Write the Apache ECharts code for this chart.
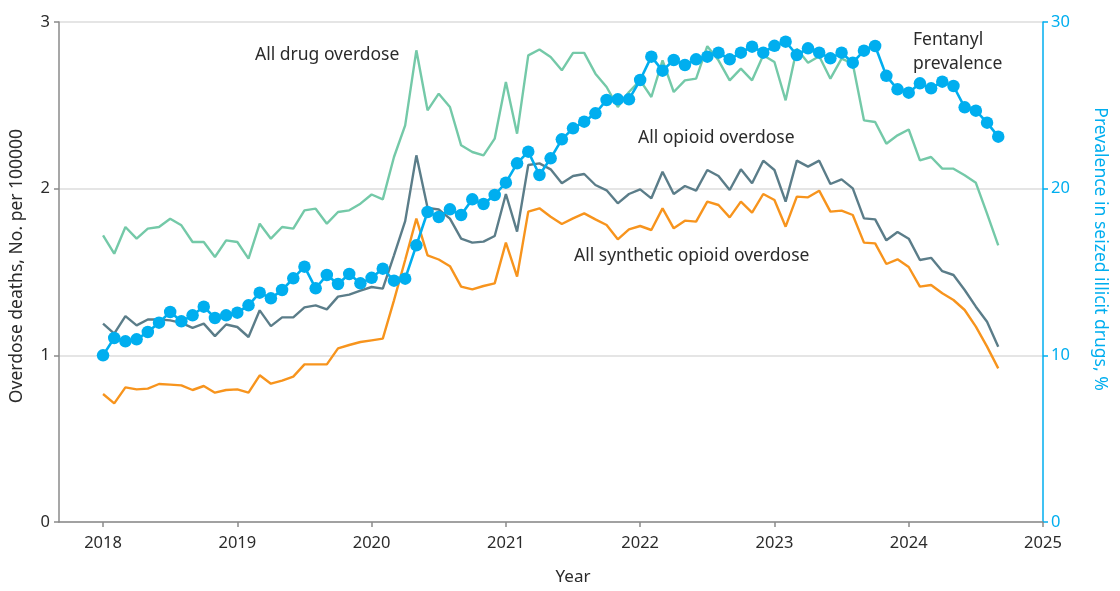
<!DOCTYPE html>
<html>
<head>
<meta charset="utf-8">
<script src="https://cdn.jsdelivr.net/npm/echarts@6/dist/echarts.min.js"></script>
<style>
html,body{margin:0;padding:0;background:#fff;}
#chart{width:1120px;height:591px;}
</style>
</head>
<body>
<div id="chart"></div>
<script>
// Monthly periods, Jan 2018 .. Sep 2024
const startYear = 2018;
const monthCount = 81;
const months = [];
for (let i = 0; i < monthCount; i++) months.push(startYear + i / 12);

const yearTicks = [2018, 2019, 2020, 2021, 2022, 2023, 2024, 2025];
const leftTicks = [0, 1, 2, 3];
const rightTicks = [0, 10, 20, 30];

// Overdose deaths per 100000
const allDrug = [
  1.72, 1.61, 1.77, 1.70, 1.76, 1.77, 1.82, 1.78, 1.68, 1.68, 1.59, 1.69,
  1.68, 1.58, 1.79, 1.70, 1.77, 1.76, 1.87, 1.88, 1.79, 1.86, 1.87, 1.91,
  1.965, 1.936, 2.19, 2.38, 2.83, 2.47, 2.57, 2.49, 2.26, 2.22, 2.20, 2.30,
  2.64, 2.33, 2.80, 2.835, 2.79, 2.71, 2.815, 2.815, 2.69, 2.61, 2.49, 2.58,
  2.65, 2.55, 2.77, 2.58, 2.65, 2.66, 2.855, 2.77, 2.65, 2.72, 2.65, 2.80,
  2.76, 2.53, 2.84, 2.755, 2.795, 2.66, 2.78, 2.75, 2.41, 2.40, 2.27, 2.32,
  2.355, 2.17, 2.19, 2.12, 2.12, 2.08, 2.035, 1.85, 1.66
];
const allOpioid = [
  1.19, 1.13, 1.235, 1.18, 1.215, 1.215, 1.21, 1.195, 1.165, 1.19, 1.115, 1.185,
  1.17, 1.11, 1.27, 1.175, 1.228, 1.228, 1.288, 1.30, 1.276, 1.352, 1.364, 1.388,
  1.41, 1.40, 1.60, 1.805, 2.20, 1.885, 1.875, 1.82, 1.70, 1.676, 1.682, 1.716,
  1.968, 1.742, 2.142, 2.152, 2.116, 2.032, 2.076, 2.088, 2.022, 1.99, 1.912, 1.968,
  1.996, 1.942, 2.102, 1.968, 2.016, 1.988, 2.112, 2.076, 1.992, 2.116, 2.032, 2.168,
  2.112, 1.922, 2.168, 2.132, 2.168, 2.028, 2.056, 2.002, 1.822, 1.816, 1.69, 1.74,
  1.70, 1.572, 1.585, 1.505, 1.482, 1.392, 1.292, 1.202, 1.052
];
const synthOpioid = [
  0.768, 0.712, 0.808, 0.796, 0.80, 0.828, 0.824, 0.82, 0.792, 0.816, 0.776, 0.792,
  0.796, 0.776, 0.88, 0.83, 0.848, 0.872, 0.946, 0.946, 0.946, 1.042, 1.062, 1.08,
  1.09, 1.10, 1.33, 1.572, 1.82, 1.60, 1.575, 1.535, 1.412, 1.396, 1.416, 1.432,
  1.676, 1.472, 1.862, 1.882, 1.832, 1.788, 1.822, 1.852, 1.816, 1.782, 1.696, 1.756,
  1.776, 1.752, 1.882, 1.762, 1.808, 1.802, 1.922, 1.902, 1.828, 1.922, 1.856, 1.968,
  1.932, 1.772, 1.952, 1.948, 1.988, 1.862, 1.868, 1.842, 1.676, 1.672, 1.548, 1.576,
  1.53, 1.412, 1.422, 1.372, 1.332, 1.272, 1.172, 1.052, 0.922
];
// Fentanyl prevalence in seized illicit drugs, %
const fentanyl = [
  10.0, 11.04, 10.84, 10.96, 11.4, 11.96, 12.6, 12.04, 12.4, 12.92, 12.24, 12.4,
  12.56, 13.0, 13.76, 13.42, 13.92, 14.62, 15.32, 14.02, 14.82, 14.28, 14.88, 14.32,
  14.65, 15.2, 14.48, 14.6, 16.6, 18.6, 18.3, 18.76, 18.42, 19.36, 19.08, 19.62,
  20.36, 21.52, 22.22, 20.82, 21.82, 22.96, 23.62, 24.02, 24.52, 25.32, 25.36, 25.36,
  26.52, 27.92, 27.08, 27.72, 27.42, 27.76, 27.92, 28.16, 27.76, 28.16, 28.52, 28.16,
  28.57, 28.82, 28.02, 28.42, 28.16, 27.82, 28.16, 27.56, 28.28, 28.56, 26.77, 25.96,
  25.76, 26.32, 26.02, 26.42, 26.16, 24.88, 24.68, 23.96, 23.12
];

const pair = arr => arr.map((v, i) => [months[i], v]);

const FONT = 'Noto Sans';
const TXT = '#2b2b2b';
const AXIS = '#8a8a8a';
const BLUE = '#00aeef';

const chart = echarts.init(document.getElementById('chart'), null, {renderer: 'canvas'});
chart.setOption({
  animation: false,
  backgroundColor: '#fff',
  textStyle: {fontFamily: FONT},
  grid: {left: 58, right: 77, top: 22, bottom: 69, containLabel: false},
  xAxis: {
    type: 'value',
    min: 2017.672,
    max: 2025,
    name: 'Year',
    nameLocation: 'middle',
    nameGap: 47,
    nameTextStyle: {fontFamily: FONT, fontSize: 17, color: TXT, padding: [0, 0, 0, 44]},
    axisLine: {show: true, lineStyle: {color: AXIS, width: 1.5}},
    axisTick: {show: true, customValues: yearTicks, length: 5, lineStyle: {color: AXIS, width: 1.5}},
    axisLabel: {customValues: yearTicks, formatter: v => String(v), fontFamily: FONT, fontSize: 16.5, color: TXT, margin: 13},
    splitLine: {show: false}
  },
  yAxis: [
    {
      type: 'value',
      min: 0, max: 3, interval: 1,
      position: 'left',
      name: 'Overdose deaths, No. per 100000',
      nameLocation: 'middle',
      nameGap: 33,
      nameTextStyle: {fontFamily: FONT, fontSize: 17.5, color: TXT, padding: [0, 0, 0, 12]},
      axisLine: {show: true, lineStyle: {color: AXIS, width: 1.5}},
      axisTick: {show: true, length: 5, lineStyle: {color: AXIS, width: 1.5}},
      axisLabel: {fontFamily: FONT, fontSize: 16.5, color: TXT, margin: 9,
        customValues: leftTicks, formatter: v => String(v)},
      splitLine: {show: true, lineStyle: {color: '#dcdcdc', width: 1.5}}
    },
    {
      type: 'value',
      min: 0, max: 30, interval: 10,
      position: 'right',
      name: 'Prevalence in seized illicit drugs, %',
      nameLocation: 'middle',
      nameGap: 48,
      nameRotate: -90,
      nameTextStyle: {fontFamily: FONT, fontSize: 17.5, color: BLUE, padding: [0, 46, 0, 0]},
      axisLine: {show: true, lineStyle: {color: BLUE, width: 1.5}},
      axisTick: {show: true, length: 5, lineStyle: {color: BLUE, width: 1.5}},
      axisLabel: {fontFamily: FONT, fontSize: 16.5, color: BLUE, margin: 8,
        customValues: rightTicks, formatter: v => String(v)},
      splitLine: {show: false}
    }
  ],
  series: [
    {
      name: 'All drug overdose', type: 'line', yAxisIndex: 0, data: pair(allDrug),
      showSymbol: false, symbol: 'none',
      lineStyle: {color: '#74c9a8', width: 2.4}, itemStyle: {color: '#74c9a8'}, z: 2
    },
    {
      name: 'All opioid overdose', type: 'line', yAxisIndex: 0, data: pair(allOpioid),
      showSymbol: false, symbol: 'none',
      lineStyle: {color: '#5b7d89', width: 2.4}, itemStyle: {color: '#5b7d89'}, z: 3
    },
    {
      name: 'All synthetic opioid overdose', type: 'line', yAxisIndex: 0, data: pair(synthOpioid),
      showSymbol: false, symbol: 'none',
      lineStyle: {color: '#f7941d', width: 2.4}, itemStyle: {color: '#f7941d'}, z: 3
    },
    {
      name: 'Fentanyl prevalence', type: 'line', yAxisIndex: 1, data: pair(fentanyl),
      symbol: 'circle', symbolSize: 12.5, showSymbol: true,
      lineStyle: {color: BLUE, width: 2.6}, itemStyle: {color: BLUE}, z: 4
    }
  ],
  graphic: [
    {type: 'text', left: 255, top: 46, style: {text: 'All drug overdose', fontFamily: FONT, fontSize: 17.5, fill: TXT}},
    {type: 'text', left: 913, top: 28, style: {text: 'Fentanyl\nprevalence', fontFamily: FONT, fontSize: 17.5, fill: TXT, lineHeight: 24}},
    {type: 'text', left: 638, top: 129, style: {text: 'All opioid overdose', fontFamily: FONT, fontSize: 17.5, fill: TXT}},
    {type: 'text', left: 574, top: 247, style: {text: 'All synthetic opioid overdose', fontFamily: FONT, fontSize: 17.5, fill: TXT}}
  ]
});
</script>
</body>
</html>
